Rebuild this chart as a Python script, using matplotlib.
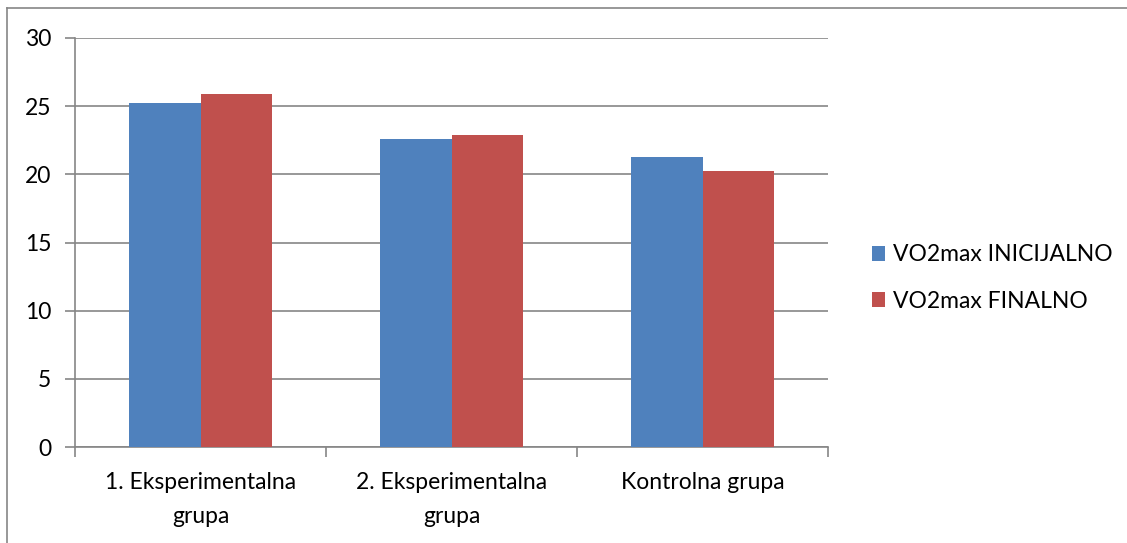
import matplotlib
matplotlib.use("Agg")
import matplotlib.pyplot as plt
from matplotlib.lines import Line2D
from matplotlib.patches import Patch

categories = ["1. Eksperimentalna\ngrupa", "2. Eksperimentalna\ngrupa", "Kontrolna grupa"]
inicijalno = [25.22, 22.6, 21.3]
finalno = [25.86, 22.88, 20.22]
series_names = ["VO2max INICIJALNO", "VO2max FINALNO"]
colors = ["#4F81BD", "#C0504D"]
yticks = [0, 5, 10, 15, 20, 25, 30]

plt.rcParams["font.family"] = ["Lato", "DejaVu Sans"]
W, H = 1127, 543
fig = plt.figure(figsize=(W / 100, H / 100), dpi=100)
ax = fig.add_axes([75 / W, 1 - 447 / H, (828 - 75) / W, (447 - 38) / H])

grid_c = "#868686"
fs = 16.5
bw = 1 / 3.5
xs = range(len(categories))
ax.bar([x - bw / 2 for x in xs], inicijalno, width=bw, color=colors[0], zorder=3)
ax.bar([x + bw / 2 for x in xs], finalno, width=bw, color=colors[1], zorder=3)

ax.set_xlim(-0.5, len(categories) - 0.5)
ax.set_ylim(0, 30)
ax.set_yticks(yticks)
ax.yaxis.grid(True, color=grid_c, lw=1.2, zorder=0)
ax.set_axisbelow(True)
for s in ["top", "right"]:
    ax.spines[s].set_visible(False)
for s in ["left", "bottom"]:
    ax.spines[s].set_color(grid_c)
    ax.spines[s].set_linewidth(1.2)

ax.set_xticks([-0.5, 0.5, 1.5, 2.5])
ax.set_xticklabels([])
ax.set_xticks(list(xs), minor=True)
ax.set_xticklabels(categories, minor=True, fontsize=fs, linespacing=1.75)
ax.tick_params(axis="x", which="major", direction="out", length=7, color=grid_c, width=1.2)
ax.tick_params(axis="x", which="minor", length=0, pad=18)
ax.tick_params(axis="y", direction="out", length=7, color=grid_c, width=1.2, labelsize=fs, pad=10)

handles = [Patch(facecolor=c) for c in colors]
fig.legend(handles, series_names, loc="center left", bbox_to_anchor=(851 / W, 1 - 278 / H),
           frameon=False, fontsize=fs, handlelength=0.6, handleheight=0.6,
           handletextpad=0.35, labelspacing=1.1)

# outer chart border
fig.add_artist(Line2D([7 / W, 7 / W], [0, 1 - 8 / H], color=grid_c, lw=1.2))
fig.add_artist(Line2D([7 / W, 1], [1 - 8 / H, 1 - 8 / H], color=grid_c, lw=1.2))

fig.savefig("out.png", dpi=100)
